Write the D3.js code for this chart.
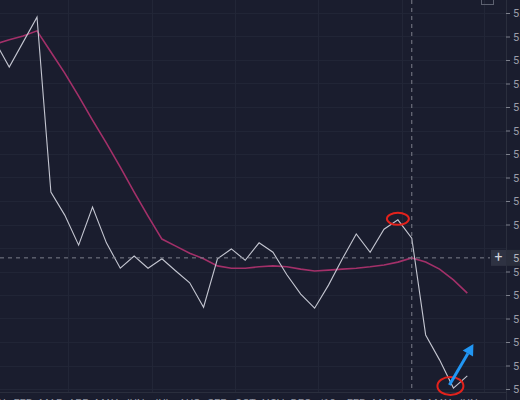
<!DOCTYPE html>
<html><head><meta charset="utf-8">
<script src="https://cdn.jsdelivr.net/npm/d3@7"></script>
<style>html,body{margin:0;padding:0;background:#1a1d2e;overflow:hidden}</style>
</head><body>
<svg id="c" width="520" height="400"></svg>
<script>
// index positions (-1 .. 33)
const idx = d3.range(-1, 34);
const price = [5.738,5.685,5.738,5.791,5.419,5.370,5.306,5.387,5.311,5.257,5.283,5.257,5.277,5.251,5.226,5.174,5.277,5.298,5.274,5.311,5.291,5.243,5.202,5.172,5.221,5.277,5.330,5.291,5.340,5.360,5.321,5.115,5.062,5.002,5.028];
const avg = [5.734,5.743,5.751,5.762,5.717,5.672,5.623,5.572,5.523,5.472,5.419,5.368,5.319,5.304,5.289,5.277,5.262,5.257,5.257,5.260,5.262,5.260,5.255,5.251,5.253,5.255,5.257,5.260,5.264,5.270,5.279,5.270,5.255,5.232,5.204];
const timeLabels = ["JAN","FEB","MAR","APR","MAY","JUN","JUL","AUG","SEP","OCT","NOV","DEC","'18","FEB","MAR","APR","MAY","JUN"];
const timeIdx = [-1,1,3,5,7,9,11,13,15,17,19,21,23,25,27,29,31,33];
const priceTicks = d3.range(5.00, 5.801, 0.05);
const crossIdx = 29;
const markIdx = [28, 32];

const svg = d3.select("#c");
const W = 520, H = 400, axisX = 506, axisY = 392;
svg.append("rect").attr("width", W).attr("height", H).attr("fill", "#1a1d2e");

const x = d3.scaleLinear().domain([-1, 33]).range([-4.64, 467.3]);
const y = d3.scaleLinear().domain([5.0, 5.8]).range([389, 13]);
const crossVal = avg[idx.indexOf(crossIdx)];
const cx = x(crossIdx), cy = y(crossVal);

// grid
const g = svg.append("g");
g.selectAll(".hg").data(priceTicks).join("line")
  .attr("x1", 0).attr("x2", axisX).attr("y1", d => Math.round(y(d)) + 0.5).attr("y2", d => Math.round(y(d)) + 0.5)
  .attr("stroke", "#212536").attr("stroke-width", 1);
const vgrid = [-1.88, 4.24, 10.29, 16.27, 22.25, 28.3, 34.2];
g.selectAll(".vg").data(vgrid).join("line")
  .attr("x1", d => Math.round(x(d)) + 0.5).attr("x2", d => Math.round(x(d)) + 0.5).attr("y1", 0).attr("y2", axisY)
  .attr("stroke", "#222637").attr("stroke-width", 1);

// axes borders
svg.append("line").attr("x1", axisX + 0.5).attr("x2", axisX + 0.5).attr("y1", 0).attr("y2", H).attr("stroke", "#2a2e3d");
svg.append("line").attr("x1", 0).attr("x2", axisX).attr("y1", axisY + 0.5).attr("y2", axisY + 0.5).attr("stroke", "#2a2e3d");

// right axis (labels near the crosshair label are hidden by it)
const shownTicks = priceTicks.filter(d => Math.abs(y(d) - cy) > 11);
const yAxis = d3.axisRight(y).tickValues(shownTicks).tickFormat(d3.format(".2f")).tickSize(4).tickPadding(3);
const ya = svg.append("g").attr("transform", `translate(${axisX},0)`).call(yAxis);
ya.select(".domain").remove();
ya.selectAll("line").attr("stroke", "#7d808c");
ya.selectAll("text").attr("fill", "#9a9daa").attr("font-family", "Roboto, sans-serif").attr("font-size", 11);

// bottom axis labels
const xa = svg.append("g");
xa.selectAll("text").data(timeLabels).join("text")
  .attr("x", (d, i) => x(timeIdx[i])).attr("y", 407)
  .attr("text-anchor", "middle").attr("fill", "#8f93a0")
  .attr("font-family", "Roboto, sans-serif").attr("font-size", 11).text(d => d);

// lines
const line = d3.line().x((d, i) => x(idx[i])).y(d => y(d));
svg.append("path").datum(avg).attr("d", line).attr("fill", "none").attr("stroke", "#a33069").attr("stroke-width", 1.6);
svg.append("path").datum(price).attr("d", line).attr("fill", "none").attr("stroke", "#c4c6d1").attr("stroke-width", 1.1);

// crosshair
svg.append("line").attr("x1", cx).attr("x2", cx).attr("y1", 0).attr("y2", axisY)
  .attr("stroke", "#7c7f8c").attr("stroke-dasharray", "4,4");
svg.append("line").attr("x1", 0).attr("x2", 490).attr("y1", cy).attr("y2", cy)
  .attr("stroke", "#7c7f8c").attr("stroke-dasharray", "4,4");
svg.append("rect").attr("x", 491).attr("y", cy - 8).attr("width", 15).attr("height", 16).attr("fill", "#2e3242");
svg.append("text").attr("x", 498.5).attr("y", cy + 4.5).attr("text-anchor", "middle").attr("fill", "#d1d4dc")
  .attr("font-family", "Roboto, sans-serif").attr("font-size", 14).text("+");
svg.append("rect").attr("x", axisX + 1).attr("y", cy - 8).attr("width", 14).attr("height", 16).attr("fill", "#2a2e3c");
svg.append("text").attr("x", axisX + 7).attr("y", cy + 4).attr("fill", "#b2b5be")
  .attr("font-family", "Roboto, sans-serif").attr("font-size", 11).text(d3.format(".2f")(crossVal));

// top-right small box
svg.append("rect").attr("x", 481.5).attr("y", -3.5).attr("width", 12).attr("height", 8)
  .attr("fill", "none").attr("stroke", "#5d6170");

// annotations
const p1 = [x(markIdx[0]), y(price[idx.indexOf(markIdx[0])])];
const p2 = [x(markIdx[1]), y(price[idx.indexOf(markIdx[1])])];
svg.append("ellipse").attr("cx", p1[0]).attr("cy", p1[1] - 1).attr("rx", 11).attr("ry", 6)
  .attr("fill", "none").attr("stroke", "#e3221c").attr("stroke-width", 2);
svg.append("ellipse").attr("cx", p2[0] - 3).attr("cy", p2[1] - 2).attr("rx", 13).attr("ry", 9)
  .attr("fill", "none").attr("stroke", "#e3221c").attr("stroke-width", 2);

// blue arrow
const a0 = [p2[0] - 4, p2[1] - 3], a1 = [p2[0] + 20, p2[1] - 44];
const ang = Math.atan2(a1[1] - a0[1], a1[0] - a0[0]);
const hl = 11, hw = 6;
const base = [a1[0] - hl * Math.cos(ang), a1[1] - hl * Math.sin(ang)];
svg.append("line").attr("x1", a0[0]).attr("y1", a0[1]).attr("x2", base[0]).attr("y2", base[1])
  .attr("stroke", "#2196f3").attr("stroke-width", 3);
const nx = -Math.sin(ang), ny = Math.cos(ang);
svg.append("path").attr("d", `M${a1[0]},${a1[1]}L${base[0] + nx * hw},${base[1] + ny * hw}L${base[0] - nx * hw},${base[1] - ny * hw}Z`)
  .attr("fill", "#2196f3");
</script>
</body></html>
